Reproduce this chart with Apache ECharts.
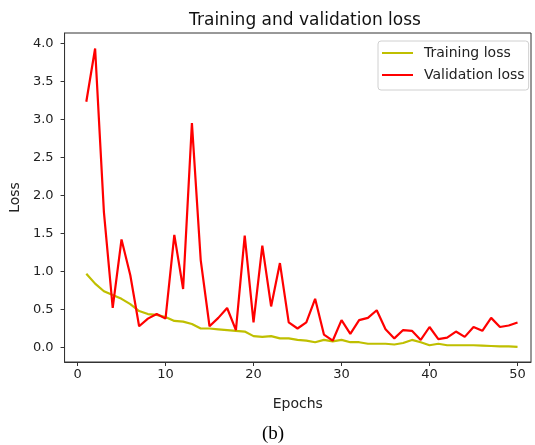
<!DOCTYPE html>
<html>
<head>
<meta charset="utf-8">
<script src="https://cdn.jsdelivr.net/npm/echarts@6/dist/echarts.min.js"></script>
<style>html,body{margin:0;padding:0;background:#fff;}#c{width:535px;height:445px;}</style>
</head>
<body>
<div id="c"></div>
<script>
const epochs = Array.from({length: 50}, (_, i) => i + 1);
const trainingLoss = [0.97,0.84,0.74,0.69,0.64,0.57,0.48,0.44,0.43,0.40,
  0.35,0.34,0.31,0.25,0.25,0.24,0.23,0.22,0.21,0.15,
  0.14,0.15,0.12,0.12,0.10,0.09,0.07,0.10,0.08,0.10,
  0.07,0.07,0.05,0.05,0.05,0.04,0.06,0.10,0.07,0.03,
  0.05,0.03,0.03,0.03,0.03,0.025,0.02,0.015,0.015,0.01];
const validationLoss = [3.23,3.93,1.78,0.52,1.42,0.95,0.28,0.38,0.44,0.38,
  1.48,0.77,2.95,1.15,0.28,0.39,0.52,0.23,1.47,0.33,
  1.34,0.54,1.11,0.33,0.25,0.33,0.64,0.17,0.09,0.36,
  0.18,0.36,0.39,0.49,0.24,0.12,0.23,0.22,0.10,0.27,
  0.11,0.13,0.21,0.14,0.27,0.22,0.39,0.27,0.29,0.33];
const xTicks = [0,10,20,30,40,50];
const yTicks = [0,0.5,1,1.5,2,2.5,3,3.5,4];

const font = 'DejaVu Sans';
const chart = echarts.init(document.getElementById('c'));
chart.setOption({
  animation: false,
  backgroundColor: '#fff',
  title: {
    text: 'Training and validation loss',
    left: 300, top: 7, textAlign: 'center',
    textStyle: {fontFamily: font, fontSize: 17, fontWeight: 'normal', color: '#111'}
  },
  legend: {
    left: 378, top: 41, orient: 'vertical',
    itemWidth: 31, itemHeight: 2, itemGap: 8,
    padding: [5, 4, 8, 4],
    borderColor: '#d0d0d0', borderWidth: 1, borderRadius: 3,
    icon: 'rect',
    textStyle: {fontFamily: font, fontSize: 14, color: '#222', padding: [0, 0, 0, 6]},
    data: ['Training loss', 'Validation loss']
  },
  grid: {left: 63, right: 4, top: 33, bottom: 83, show: true, borderColor: '#333', borderWidth: 1},
  xAxis: {
    type: 'value', min: -1.47, max: 51.53,
    name: 'Epochs', nameLocation: 'middle', nameGap: 35,
    nameTextStyle: {fontFamily: font, fontSize: 14, color: '#222'},
    axisLine: {show: true, onZero: false, lineStyle: {color: '#333'}},
    axisTick: {show: true, inside: false, length: 4, customValues: xTicks, lineStyle: {color: '#333'}},
    axisLabel: {customValues: xTicks, margin: 6, fontFamily: font, fontSize: 13, color: '#222', formatter: v => String(v)},
    splitLine: {show: false}
  },
  yAxis: {
    type: 'value', min: -0.19, max: 4.134,
    name: 'Loss', nameLocation: 'middle', nameGap: 38, nameRotate: 90,
    nameTextStyle: {fontFamily: font, fontSize: 14, color: '#222'},
    axisLine: {show: true, onZero: false, lineStyle: {color: '#333'}},
    axisTick: {show: true, inside: false, length: 4, customValues: yTicks, lineStyle: {color: '#333'}},
    axisLabel: {customValues: yTicks, margin: 11, fontFamily: font, fontSize: 13, color: '#222', formatter: v => v.toFixed(1)},
    splitLine: {show: false}
  },
  series: [
    {name: 'Training loss', type: 'line', data: epochs.map((e, i) => [e, trainingLoss[i]]),
     showSymbol: false, symbol: 'none', lineStyle: {color: '#bfbf00', width: 2.2}, itemStyle: {color: '#bfbf00'}},
    {name: 'Validation loss', type: 'line', data: epochs.map((e, i) => [e, validationLoss[i]]),
     showSymbol: false, symbol: 'none', lineStyle: {color: '#ff0000', width: 2.2}, itemStyle: {color: '#ff0000'}}
  ],
  graphic: [{
    type: 'text', x: 273, y: 434,
    style: {text: '(b)', fontFamily: 'Liberation Serif', fontSize: 19, fill: '#000', align: 'center', verticalAlign: 'middle'}
  }]
});
</script>
</body>
</html>
